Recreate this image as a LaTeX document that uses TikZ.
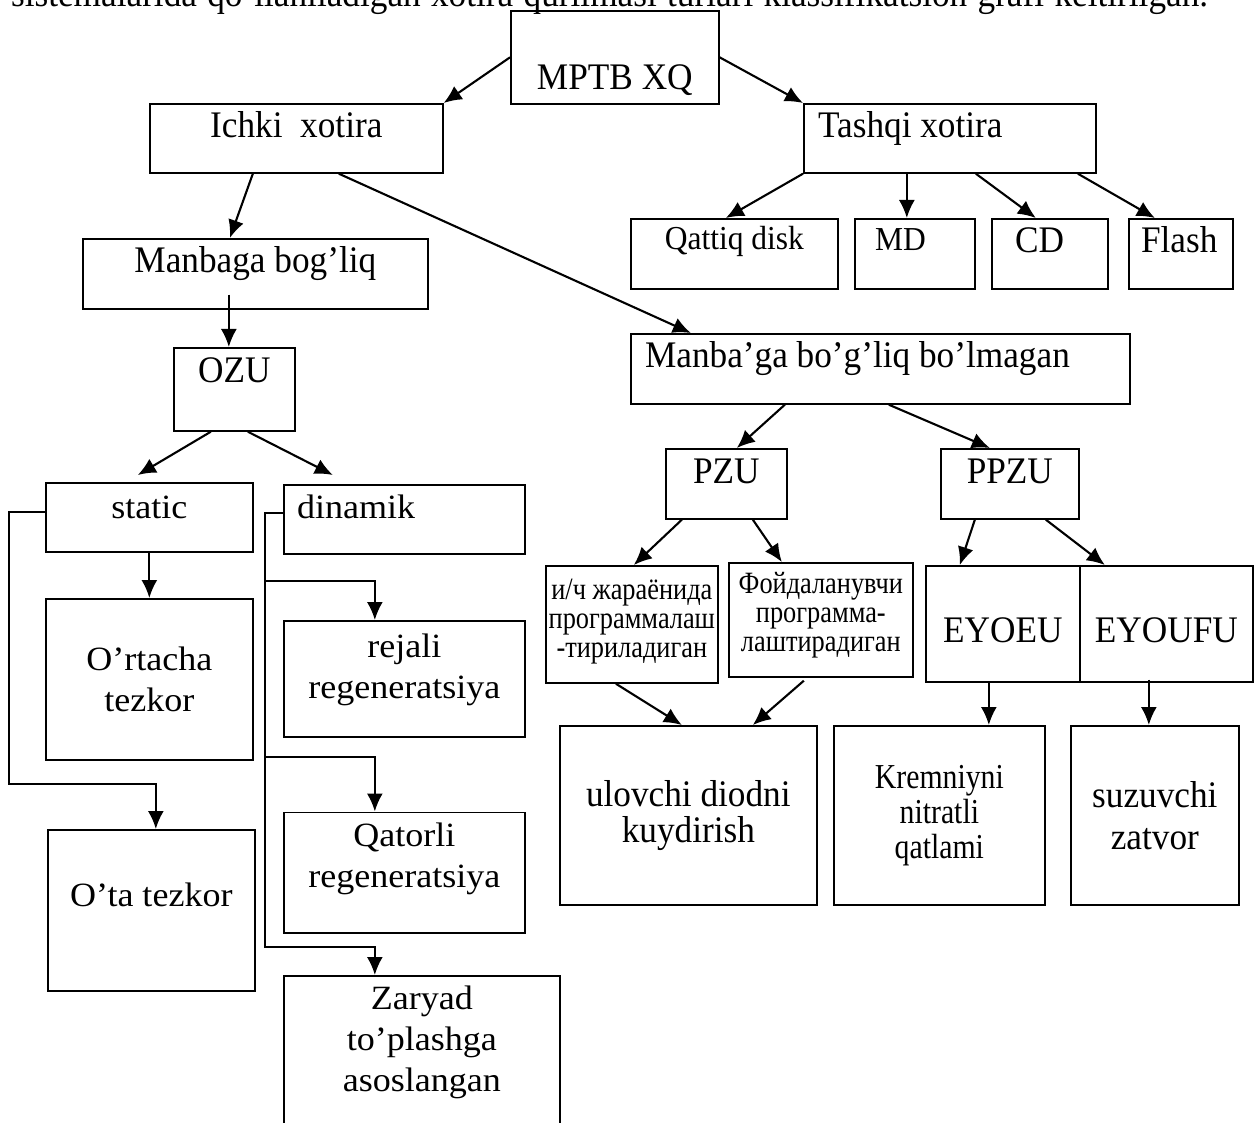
\documentclass[tikz,border=0pt]{standalone}
\usepackage{fontspec}
\setmainfont[FakeStretch=0.94]{Liberation Serif}
\newfontfamily\widefont[FakeStretch=1.06]{Liberation Serif}
\newfontfamily\narrowfont[FakeStretch=0.85]{Liberation Serif}
\usetikzlibrary{arrows.meta}
\tikzset{
  every picture/.style={
    line width=2.1pt,
    >={Latex[width=16pt, length=18pt]}
  },
  box/.style 2 args={
    draw, line width=1.7pt, inner sep=0pt, anchor=north west,
    minimum width=#1, minimum height=#2, align=center
  },
  bigtxt/.style={font=\fontsize{37.5}{43}\selectfont},
  smalltxt/.style={font=\fontsize{33.5}{38}\selectfont},
  widetxt/.style={font=\widefont\fontsize{34}{41}\selectfont},
  slimtxt/.style={font=\narrowfont\fontsize{35}{35}\selectfont},
  cyrtxt/.style={font=\narrowfont\fontsize{31}{29}\selectfont},
  midlab/.style={anchor=base, inner sep=0pt},
  leftlab/.style={anchor=base west, inner sep=0pt},
  toplab/.style={anchor=north, inner sep=0pt, align=center}
}
\begin{document}
\begin{tikzpicture}[x=1pt, y=-1pt]
  \useasboundingbox (0,0) rectangle (1254,1123);
  \node[bigtxt, leftlab] (caption) at (10,7)
    {\makebox[1197pt][s]{sistemalarida qo’llaniladigan xotira qurilmasi turlari klassifikatsion grafi keltirilgan.}};

  \node[box={208}{93}, label={[bigtxt, midlab, yshift=-80]north:MPTB XQ}] (mptb) at (510,10) {};
  \node[box={293}{69}, label={[bigtxt, midlab, yshift=-35]north:Ichki\ \ xotira}] (ichki) at (149,103) {};
  \node[box={292}{69}, label={[bigtxt, leftlab, xshift=14, yshift=-35]north west:Tashqi xotira}] (tashqi) at (803,103) {};
  \node[box={207}{70}, label={[smalltxt, midlab, yshift=-32]north:Qattiq disk}] (qattiq) at (630,218) {};
  \node[box={120}{70}, label={[smalltxt, leftlab, xshift=20, yshift=-33]north west:MD}] (md) at (854,218) {};
  \node[box={116}{70}, label={[bigtxt, leftlab, xshift=23, yshift=-35]north west:CD}] (cd) at (991,218) {};
  \node[box={104}{70}, label={[bigtxt, leftlab, xshift=12, yshift=-35]north west:Flash}] (flash) at (1128,218) {};
  \node[box={345}{70}, label={[bigtxt, midlab, yshift=-35]north:Manbaga bog’liq}] (manbaga) at (82,238) {};
  \node[box={499}{70}, label={[bigtxt, leftlab, xshift=14, yshift=-35]north west:Manba’ga bo’g’liq bo’lmagan}] (nomanba) at (630,333) {};
  \node[box={121}{83}, label={[bigtxt, midlab, yshift=-36]north:OZU}] (ozu) at (173,347) {};
  \node[box={121}{70}, label={[bigtxt, midlab, yshift=-35]north:PZU}] (pzu) at (665,448) {};
  \node[box={138}{70}, label={[bigtxt, midlab, yshift=-35]north:PPZU}] (ppzu) at (940,448) {};

  \node[box={207}{69}, label={[widetxt, midlab, yshift=-36]north:static}] (static) at (45,482) {};
  \node[box={241}{69}, label={[widetxt, leftlab, xshift=13, yshift=-34]north west:dinamik}] (dinamik) at (283,484) {};
  \node[box={207}{161}, widetxt] (ortacha) at (45,598) {O’rtacha\\tezkor};
  \node[box={207}{161}, label={[widetxt, midlab, yshift=-77]north:O’ta tezkor}] (ota) at (47,829) {};
  \node[box={241}{116}, label={[widetxt, toplab, yshift=-12.5]north:rejali\\regeneratsiya}] (rejali) at (283,620) {};
  \node[box={241}{120.5}, label={[widetxt, toplab, yshift=-10]north:Qatorli\\regeneratsiya}] (qatorli) at (283,811.5) {};
  \node[box={276}{200}, label={[widetxt, toplab, yshift=-9.5]north:Zaryad\\to’plashga\\asoslangan}] (zaryad) at (283,975) {};

  \node[box={172}{117}, label={[cyrtxt, toplab, yshift=-13]north:и/ч жараёнида\\программалаш\\-тириладиган}] (ich) at (545,565) {};
  \node[box={184}{114}, label={[cyrtxt, toplab, yshift=-9]north:Фойдаланувчи\\программа-\\лаштирадиган}] (foyd) at (728,562) {};
  \node[box={154}{116}, label={[bigtxt, midlab, yshift=-77]north:EYOEU}] (eyoeu) at (925,565) {};
  \node[box={173}{116}, label={[bigtxt, midlab, yshift=-77]north:EYOUFU}] (eyoufu) at (1079,565) {};
  \node[box={257}{179}, font=\fontsize{37.5}{36}\selectfont] (ulovchi) at (559,725) {ulovchi diodni\\kuydirish};
  \node[box={211}{179}, slimtxt] (kremniy) at (833,725) {Kremniyni\\nitratli\\qatlami};
  \node[box={168}{179}, font=\fontsize{37.5}{42}\selectfont] (suzuvchi) at (1070,725) {suzuvchi\\zatvor};

  \draw[->] (mptb.west) -- (ichki.north east);
  \draw[->] (mptb.east) -- (tashqi.north west);
  \draw[->] ([xshift=-43.5]ichki.south) -- ([xshift=-25.5]manbaga.north);
  \draw[->] ([xshift=42.5]ichki.south) -- ([xshift=-189.5]nomanba.north);
  \draw[->] (tashqi.south west) -- ([xshift=-8.5]qattiq.north);
  \draw[->] ([xshift=-43]tashqi.south) -- ([xshift=-8]md.north);
  \draw[->] ([xshift=26]tashqi.south) -- ([xshift=-14]cd.north);
  \draw[->] ([xshift=128]tashqi.south) -- ([xshift=-26]flash.north);
  \draw[->] ([xshift=-5.5, yshift=15]manbaga.south -| ozu.north) -- ([xshift=-5.5]ozu.north);
  \draw[->] ([xshift=-23.5]ozu.south) -- ([xshift=-11.5, yshift=7]static.north);
  \draw[->] ([xshift=13.5]ozu.south) -- ([xshift=-71.5, yshift=9]dinamik.north);
  \draw[->] (static.south) -- (ortacha.north);
  \draw[->] ([yshift=5.5]static.west) -- ++(-36,0) |- ([xshift=4.5, yshift=45]ota.north) -- ([xshift=4.5]ota.north);

  \coordinate (dtrunk) at ([xshift=-18, yshift=6.5]dinamik.west);
  \coordinate (rtip) at ([xshift=-29.5]rejali.north);
  \coordinate (qtip) at ([xshift=-29.5]qatorli.north);
  \draw[->] ([yshift=6.5]dinamik.west) -- (dtrunk) |- ([xshift=-47, yshift=28]zaryad.north) -- ([xshift=-47]zaryad.north);
  \draw[->] ([yshift=39]rtip -| dtrunk) -| (rtip);
  \draw[->] ([yshift=54.5]qtip -| dtrunk) -| (qtip);

  \draw[->] ([xshift=-95.5]nomanba.south) -- ([xshift=10.5]pzu.north);
  \draw[->] ([xshift=8.5]nomanba.south) -- ([xshift=-20]ppzu.north);
  \draw[->] ([xshift=-44.5]pzu.south) -- ([xshift=2]ich.north);
  \draw[->] ([xshift=26.5]pzu.south) -- ([xshift=-39]foyd.north);
  \draw[->] ([xshift=-35]ppzu.south) -- ([xshift=-43]eyoeu.north);
  \draw[->] ([xshift=36]ppzu.south) -- ([xshift=-61.5]eyoufu.north);
  \draw[->] ([xshift=-16]ich.south) -- ([xshift=-6.5]ulovchi.north);
  \draw[->] ([xshift=-17, yshift=-3]foyd.south) -- ([xshift=64.5]ulovchi.north);
  \draw[->] ([xshift=-14]eyoeu.south) -- ([xshift=-14]eyoeu.south |- kremniy.north);
  \draw[->] ([xshift=-17.5, yshift=3]eyoufu.south) -- ([xshift=-17.5]eyoufu.south |- suzuvchi.north);
\end{tikzpicture}
\end{document}
